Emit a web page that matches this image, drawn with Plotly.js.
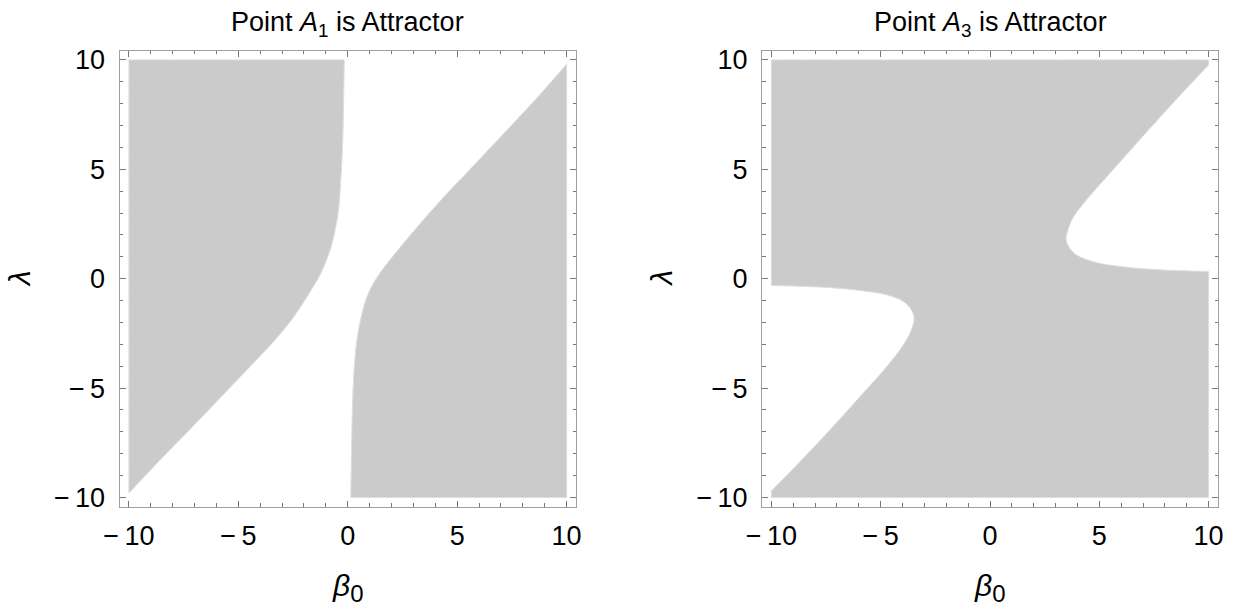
<!DOCTYPE html>
<html>
<head>
<meta charset="utf-8">
<script src="https://cdn.plot.ly/plotly-3.0.1.min.js"></script>
<style>
  html, body { margin: 0; padding: 0; background: #fff; }
  #chart { width: 1239px; height: 607px; }
</style>
</head>
<body>
<div id="chart"></div>
<script>
// ---- data ----
const betaMin = -10, betaMax = 10;
const lambdaMin = -10, lambdaMax = 10;

const tickVals = [-10, -5, 0, 5, 10];
const tickLabels = ['\u2212\u200910', '\u2212\u20095', '0', '5', '10'];

const panelTitles = ['Point <i>A</i><sub>1</sub> is Attractor', 'Point <i>A</i><sub>3</sub> is Attractor'];
const xTitle = '<i>\u03b2</i><sub><span style="font-size:24px">0</span></sub>';
const yTitle = '<i>\u03bb</i>';

// Panel 1 (A1): boundary of the upper-left shaded region, from top edge downward
const a1UpperBeta   = [-0.16, -0.19, -0.24, -0.32, -0.42, -0.56, -0.72, -0.95, -1.25, -1.6, -1.95, -2.68, -3.55, -4.45, -5.4, -7.0, -8.3, -10];
const a1UpperLambda = [10, 8, 6, 4.5, 3.15, 2.3, 1.6, 0.9, 0.2, -0.4, -0.97, -2.03, -3.05, -4.0, -5.0, -6.67, -8.0, -9.8];
// Panel 1 (A1): boundary of the lower-right shaded region, from bottom edge upward
const a1LowerBeta   = [0.14, 0.17, 0.21, 0.27, 0.36, 0.5, 0.65, 0.85, 1.15, 1.5, 2.0, 2.7, 3.55, 4.45, 5.4, 7.0, 8.5, 10];
const a1LowerLambda = [-10, -8, -6, -4.5, -3.3, -2.3, -1.6, -0.9, -0.25, 0.3, 0.95, 1.8, 2.8, 3.8, 4.8, 6.5, 8.1, 9.8];

// Panel 2 (A3): boundary of the lower-left unshaded hole, from left edge rightward, round the nose, then down-left
const a3LowBeta   = [-10, -7.46, -5.94, -4.72, -3.96, -3.6, -3.47, -3.6, -3.96, -4.72, -5.94, -7.46, -8.98, -10];
const a3LowLambda = [-0.31, -0.40, -0.54, -0.74, -1.04, -1.42, -1.82, -2.34, -3.02, -4.01, -5.38, -7.06, -8.66, -9.7];
// Panel 2 (A3): boundary of the upper-right unshaded hole, from top-right down to the nose, then out to the right edge
const a3HighBeta   = [10, 8.36, 6.84, 5.62, 4.41, 3.79, 3.52, 3.48, 3.58, 3.95, 4.86, 6.38, 7.90, 10];
const a3HighLambda = [9.77, 8.02, 6.34, 4.97, 3.60, 2.77, 2.08, 1.82, 1.50, 1.09, 0.74, 0.51, 0.40, 0.33];

// ---- build region polygons (corner points doubled so the spline keeps them sharp) ----
function zip(xs, ys) { return xs.map(function (v, i) { return [v, ys[i]]; }); }
function poly(parts) {
  const x = [], y = [];
  parts.forEach(function (p) {
    p.pts.forEach(function (pt, i) {
      const dbl = p.sharp || i === 0 || i === p.pts.length - 1;
      x.push(pt[0]); y.push(pt[1]);
      if (dbl) { x.push(pt[0]); y.push(pt[1]); }
    });
  });
  x.push(x[0]); y.push(y[0]);
  return { x: x, y: y };
}

const reg1 = poly([
  { pts: [[betaMin, lambdaMax]], sharp: true },
  { pts: zip(a1UpperBeta, a1UpperLambda), sharp: false }
]);
const reg2 = poly([
  { pts: zip(a1LowerBeta, a1LowerLambda), sharp: false },
  { pts: [[betaMax, lambdaMin]], sharp: true }
]);
const reg3 = poly([
  { pts: [[betaMin, lambdaMax], [betaMax, lambdaMax]], sharp: true },
  { pts: zip(a3HighBeta, a3HighLambda), sharp: false },
  { pts: [[betaMax, lambdaMin], [betaMin, lambdaMin]], sharp: true },
  { pts: zip(a3LowBeta.slice().reverse(), a3LowLambda.slice().reverse()), sharp: false }
]);

const fillCol = '#cbcbcb';
const edgeCol = '#dedede';
function region(r, xa, ya) {
  return { x: r.x, y: r.y, xaxis: xa, yaxis: ya, mode: 'lines', fill: 'toself',
           fillcolor: fillCol, line: { color: edgeCol, width: 1, shape: 'spline', smoothing: 1, simplify: false },
           hoverinfo: 'skip', showlegend: false };
}
const traces = [
  region(reg1, 'x', 'y'),
  region(reg2, 'x', 'y'),
  region(reg3, 'x2', 'y2')
];

const font = { family: 'Liberation Sans, Arial, sans-serif', color: '#000' };
function xax(domain, anchor) {
  return { domain: domain, anchor: anchor, range: [-10.43, 10.43], showgrid: false, zeroline: false,
           showline: true, linecolor: '#a0a0a0', linewidth: 1, mirror: 'ticks',
           ticks: 'inside', ticklen: 6, tickwidth: 1, tickcolor: '#777',
           tickmode: 'array', tickvals: tickVals, ticktext: tickLabels,
           tickfont: Object.assign({ size: 27 }, font), ticklabelstandoff: 5,
           minor: { dtick: 1, tick0: 0, ticks: 'inside', ticklen: 3.5, tickwidth: 1, tickcolor: '#777', showgrid: false },
           fixedrange: true };
}
function yax(domain, anchor) {
  const a = xax(domain, anchor);
  a.range = [-10.42, 10.42];
  a.ticklabelstandoff = 8;
  return a;
}

const yDom = [0.16524, 0.91647];
const d1 = [119.5 / 1239, 576 / 1239];
const d2 = [762 / 1239, 1218 / 1239];

const ann = [];
[d1, d2].forEach(function (d, i) {
  const cx = (d[0] + d[1]) / 2;
  ann.push({ text: panelTitles[i], xref: 'paper', yref: 'paper', x: cx, y: (607 - 24) / 607,
             xanchor: 'center', yanchor: 'middle', showarrow: false, font: Object.assign({ size: 27 }, font) });
  ann.push({ text: xTitle, xref: 'paper', yref: 'paper', x: cx, y: (607 - 588) / 607,
             xanchor: 'center', yanchor: 'middle', showarrow: false, font: Object.assign({ size: 30 }, font) });
  ann.push({ text: yTitle, xref: 'paper', yref: 'paper', x: (d[0] * 1239 - 100) / 1239, y: 0.5409,
             xanchor: 'center', yanchor: 'middle', textangle: -90, showarrow: false, font: Object.assign({ size: 30 }, font) });
});

const layout = {
  width: 1239, height: 607,
  margin: { l: 0, r: 0, t: 0, b: 0, pad: 0 },
  paper_bgcolor: '#fff', plot_bgcolor: '#fff',
  showlegend: false,
  xaxis: xax(d1, 'y'), yaxis: yax(yDom, 'x'),
  xaxis2: xax(d2, 'y2'), yaxis2: yax(yDom, 'x2'),
  annotations: ann
};

Plotly.newPlot('chart', traces, layout, { displayModeBar: false, staticPlot: true });
</script>
</body>
</html>
